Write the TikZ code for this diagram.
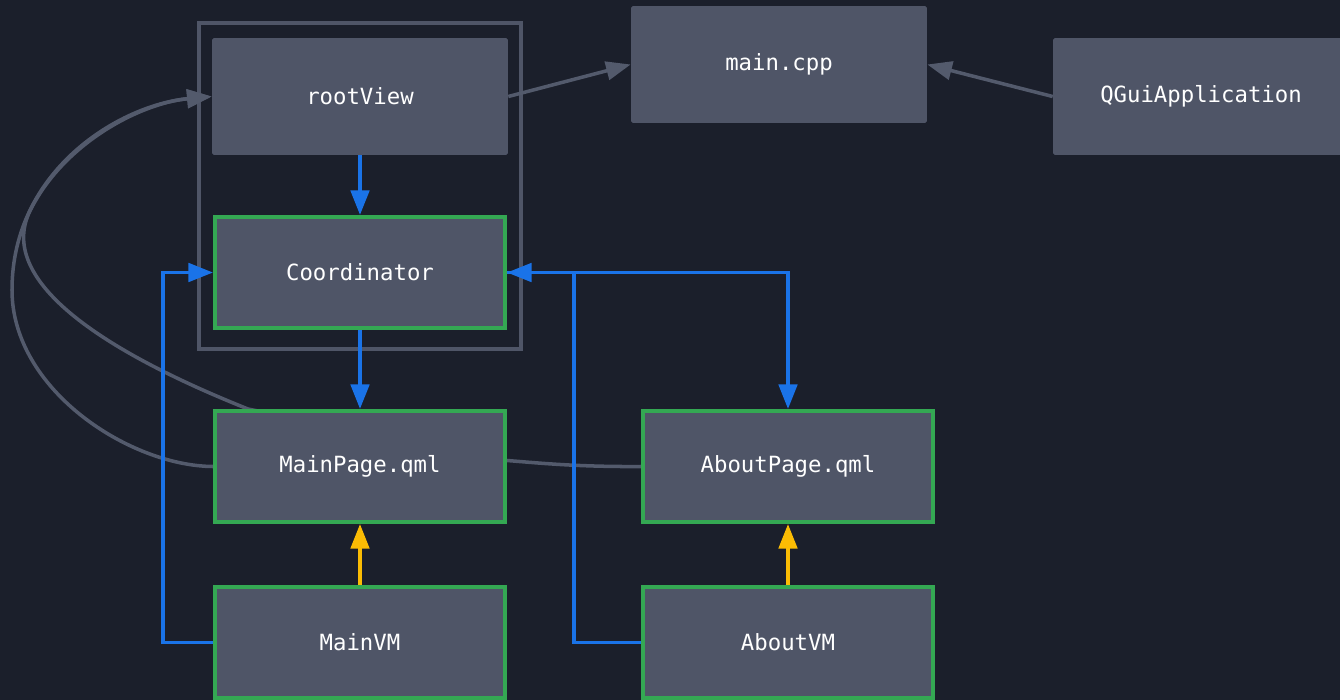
\documentclass[tikz,border=0pt]{standalone}
\usepackage{fontspec}
\setmonofont{DejaVu Sans Mono}
\usepackage{xcolor}
\usepackage{tikz}
\usetikzlibrary{arrows.meta,backgrounds}

\definecolor{bgdark}{HTML}{1B1F2B}
\definecolor{boxfill}{HTML}{4F5567}
\definecolor{linkgray}{HTML}{535A6C}
\definecolor{qmlgreen}{HTML}{34A853}
\definecolor{navblue}{HTML}{1A73E8}
\definecolor{bindyellow}{HTML}{FBBC04}

\begin{document}
\begin{tikzpicture}[x=0.02cm,y=-0.02cm,
  box/.style={fill=boxfill,text=white,font=\ttfamily\fontsize{12.7}{15}\selectfont,
    minimum width=5.92cm,minimum height=2.34cm,inner sep=0pt,rounded corners=1pt},
  qmlbox/.style={box,draw=qmlgreen,line width=2pt,rounded corners=0pt,
    minimum width=5.81cm,minimum height=2.23cm},
  tip/.style={-{Triangle[length=14pt,width=10.5pt]}},
  nav/.style={draw=navblue,line width=2pt,tip,fill=none},
  bind/.style={draw=bindyellow,line width=2pt,tip,fill=none},
  uses/.style={draw=linkgray,line width=2pt,tip,fill=none},
  cluster/.style={draw=boxfill,line width=2pt}]
\useasboundingbox (0,0) rectangle (1340,700);

\node[box] (rootview) at (360,96.5) {rootView};
\node[box] (maincpp) at (779,64.5) {main.cpp};
\node[box] (qguiapp) at (1201,96.5) {QGuiApplication};
\node[qmlbox] (coordinator) at (360,272.5) {Coordinator};
\node[qmlbox] (mainpage) at (360,466.5) {MainPage.qml};
\node[qmlbox] (aboutpage) at (788,466.5) {AboutPage.qml};
\node[qmlbox] (mainvm) at (360,642.5) {MainVM};
\node[qmlbox] (aboutvm) at (788,642.5) {AboutVM};

\begin{scope}[on background layer]
\fill[bgdark] (0,0) rectangle (1340,700);
\draw[cluster] (199,23) rectangle (521,349);
% gray links
\draw[uses] (rootview.east) -- (maincpp.west);
\draw[uses] (qguiapp.west) -- (maincpp.east);
\draw[uses] (mainpage.west) .. controls (130,466) and (12,390) .. (12,290)
  .. controls (12,170) and (120,105) .. (rootview.west);
\draw[uses] (aboutpage.west) .. controls (570,467) and (530,462) .. (500,460) -- (248,409)
  .. controls (100,350) and (-4.4,279.4) .. (30.3,210.2)
  .. controls (65,141) and (143,102.75) .. (rootview.west);
% navigation
\draw[nav] (rootview.south) -- (coordinator.north);
\draw[nav] (coordinator.south) -- (mainpage.north);
\draw[nav] (mainvm.west) -- ++(-50,0) |- (coordinator.west);
\draw[nav] (aboutvm.west) -- ++(-67,0) |- (coordinator.east);
\draw[nav] (coordinator.east) -| (aboutpage.north);
% bindings
\draw[bind] (mainvm.north) -- (mainpage.south);
\draw[bind] (aboutvm.north) -- (aboutpage.south);
\end{scope}
\end{tikzpicture}
\end{document}
